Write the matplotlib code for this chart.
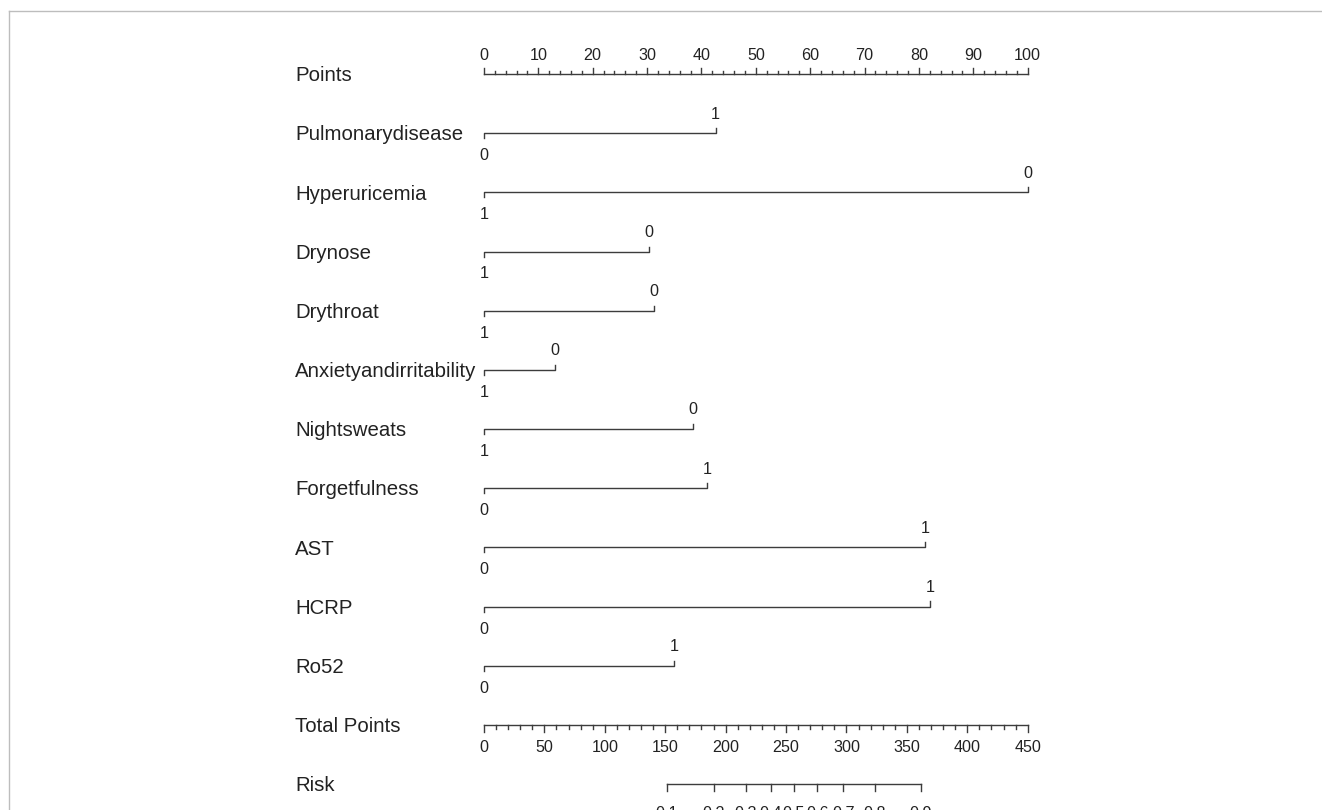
# nomogram: Points / variables / Total Points / Risk

import matplotlib.pyplot as plt
import matplotlib as mpl
from matplotlib.lines import Line2D
import numpy as np
mpl.rcParams['font.family'] = ['Liberation Sans', 'DejaVu Sans']

# data
variables = ['Pulmonarydisease', 'Hyperuricemia', 'Drynose', 'Drythroat',
             'Anxietyandirritability', 'Nightsweats', 'Forgetfulness',
             'AST', 'HCRP', 'Ro52']
left_labels = ['0', '1', '1', '1', '1', '1', '0', '0', '0', '0']
right_labels = ['1', '0', '0', '0', '0', '0', '1', '1', '1', '1']
right_points = [42.6, 100, 30.3, 31.3, 13.1, 38.4, 41.0, 81.1, 82.0, 34.9]

points_ticks = [0, 10, 20, 30, 40, 50, 60, 70, 80, 90, 100]
total_ticks = [0, 50, 100, 150, 200, 250, 300, 350, 400, 450]
risk_labels = ['0.1', '0.2', '0.3', '0.4', '0.5', '0.6', '0.7', '0.8', '0.9']
risk_total = [151.2, 190.4, 216.6, 237.3, 256.6, 275.9, 297.4, 323.6, 361.5]

W, H = 1322, 810
fig = plt.figure(figsize=(W / 100, H / 100), dpi=100)

rect = [484 / W, (H - 784) / H, (1027.7 - 484) / W, (784 - 74) / H]
ax = fig.add_axes(rect)       # points scale 0-100
ax2 = fig.add_axes(rect)      # total points scale 0-450
ax.set_xlim(0, 100)
ax2.set_xlim(0, 450)
for a in (ax, ax2):
    a.set_ylim(12, 0)
    a.axis('off')

px = 12 / (784 - 74)          # one pixel in row units
lc = '#3c3c3c'
tc = '#222222'
lw = 1.0
name_x = (295 - 484) / 5.437  # left edge of the row names, in points
name_fs = 14.7
tick_fs = 11.6


def row_name(y, s):
    ax.text(name_x, y + 7.3 * px, s, ha='left', va='baseline',
            fontsize=name_fs, color=tc, clip_on=False)


# Points axis
row_name(0, 'Points')
ax.plot([0, 100], [0, 0], color=lc, lw=lw, clip_on=False)
for v in np.arange(0, 101, 2):
    h = 6 if v % 10 == 0 else 3
    ax.plot([v, v], [0, -h * px], color=lc, lw=lw, clip_on=False)
for v in points_ticks:
    ax.text(v, -14.3 * px, str(v), ha='center', va='baseline',
            fontsize=tick_fs, color=tc, clip_on=False)

# variable rows
for i, name in enumerate(variables):
    y = i + 1
    row_name(y, name)
    r = right_points[i]
    ax.plot([0, 0, r, r], [y + 5 * px, y, y, y - 5 * px],
            color=lc, lw=lw, clip_on=False)
    ax.text(0, y + 27 * px, left_labels[i], ha='center', va='baseline',
            fontsize=tick_fs, color=tc, clip_on=False)
    ax.text(r, y - 14.5 * px, right_labels[i], ha='center', va='baseline',
            fontsize=tick_fs, color=tc, clip_on=False)

# Total Points axis
row_name(11, 'Total Points')
ax2.plot([0, 450], [11, 11], color=lc, lw=lw, clip_on=False)
for v in np.arange(0, 451, 10):
    h = 7 if v % 50 == 0 else 4
    ax2.plot([v, v], [11, 11 + h * px], color=lc, lw=lw, clip_on=False)
for v in total_ticks:
    ax2.text(v, 11 + 27.5 * px, str(v), ha='center', va='baseline',
             fontsize=tick_fs, color=tc, clip_on=False)

# Risk axis
row_name(12, 'Risk')
ax2.plot([risk_total[0], risk_total[-1]], [12, 12], color=lc, lw=lw,
         clip_on=False)
for v, s in zip(risk_total, risk_labels):
    ax2.plot([v, v], [12, 12 + 7 * px], color=lc, lw=lw, clip_on=False)
    ax2.text(v, 12 + 34 * px, s, ha='center', va='baseline',
             fontsize=tick_fs, color=tc, clip_on=False)

# light frame round the figure (only left and top visible)
fig.add_artist(Line2D([9.3 / W, 9.3 / W], [0, 1 - 11.3 / H],
                      transform=fig.transFigure, color='#bdbdbd', lw=1.0))
fig.add_artist(Line2D([9.3 / W, 1], [1 - 11.3 / H, 1 - 11.3 / H],
                      transform=fig.transFigure, color='#bdbdbd', lw=1.0))

fig.savefig('out.png', dpi=100)
